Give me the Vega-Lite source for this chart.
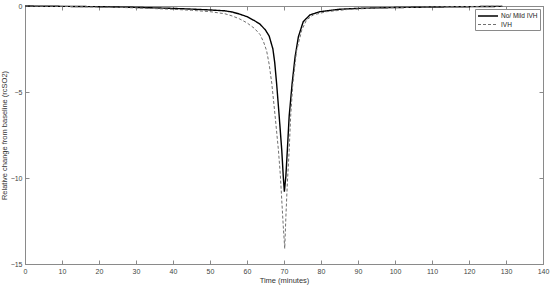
{
  "$schema": "https://vega.github.io/schema/vega-lite/v6.json",
  "width": 518,
  "height": 258,
  "autosize": {"type": "none"},
  "padding": {"left": 25, "top": 6, "right": 7, "bottom": 24},
  "config": {
    "font": "Liberation Sans",
    "view": {"stroke": "#8a8a8a", "strokeWidth": 1},
    "axis": {
      "grid": false,
      "domainColor": "#8a8a8a",
      "tickColor": "#8a8a8a",
      "labelColor": "#444444",
      "titleColor": "#333333",
      "labelFontSize": 7,
      "titleFontSize": 7.5,
      "titleFontWeight": "normal",
      "tickSize": -4,
      "labelPadding": 7
    }
  },
  "data": {
    "values": [
      {"t": 0, "v": 0, "series": "No/ Mild IVH"},
      {"t": 5, "v": -0.01, "series": "No/ Mild IVH"},
      {"t": 10, "v": -0.02, "series": "No/ Mild IVH"},
      {"t": 15, "v": -0.03, "series": "No/ Mild IVH"},
      {"t": 20, "v": -0.04, "series": "No/ Mild IVH"},
      {"t": 25, "v": -0.06, "series": "No/ Mild IVH"},
      {"t": 30, "v": -0.08, "series": "No/ Mild IVH"},
      {"t": 35, "v": -0.11, "series": "No/ Mild IVH"},
      {"t": 40, "v": -0.14, "series": "No/ Mild IVH"},
      {"t": 45, "v": -0.18, "series": "No/ Mild IVH"},
      {"t": 50, "v": -0.23, "series": "No/ Mild IVH"},
      {"t": 54, "v": -0.28, "series": "No/ Mild IVH"},
      {"t": 56, "v": -0.35, "series": "No/ Mild IVH"},
      {"t": 58, "v": -0.47, "series": "No/ Mild IVH"},
      {"t": 60, "v": -0.62, "series": "No/ Mild IVH"},
      {"t": 62, "v": -0.85, "series": "No/ Mild IVH"},
      {"t": 63.5, "v": -1.05, "series": "No/ Mild IVH"},
      {"t": 65, "v": -1.4, "series": "No/ Mild IVH"},
      {"t": 66, "v": -1.75, "series": "No/ Mild IVH"},
      {"t": 67, "v": -2.5, "series": "No/ Mild IVH"},
      {"t": 67.5, "v": -3.3, "series": "No/ Mild IVH"},
      {"t": 68, "v": -4.5, "series": "No/ Mild IVH"},
      {"t": 68.7, "v": -6.4, "series": "No/ Mild IVH"},
      {"t": 69.4, "v": -8.4, "series": "No/ Mild IVH"},
      {"t": 69.8, "v": -9.9, "series": "No/ Mild IVH"},
      {"t": 70.1, "v": -10.8, "series": "No/ Mild IVH"},
      {"t": 70.5, "v": -9.9, "series": "No/ Mild IVH"},
      {"t": 70.9, "v": -8.4, "series": "No/ Mild IVH"},
      {"t": 71.4, "v": -6.4, "series": "No/ Mild IVH"},
      {"t": 72.2, "v": -4.5, "series": "No/ Mild IVH"},
      {"t": 73, "v": -2.95, "series": "No/ Mild IVH"},
      {"t": 73.9, "v": -1.78, "series": "No/ Mild IVH"},
      {"t": 75.2, "v": -0.91, "series": "No/ Mild IVH"},
      {"t": 77, "v": -0.52, "series": "No/ Mild IVH"},
      {"t": 79.7, "v": -0.33, "series": "No/ Mild IVH"},
      {"t": 85, "v": -0.19, "series": "No/ Mild IVH"},
      {"t": 90, "v": -0.14, "series": "No/ Mild IVH"},
      {"t": 95, "v": -0.11, "series": "No/ Mild IVH"},
      {"t": 100, "v": -0.09, "series": "No/ Mild IVH"},
      {"t": 110, "v": -0.06, "series": "No/ Mild IVH"},
      {"t": 120, "v": -0.04, "series": "No/ Mild IVH"},
      {"t": 129, "v": -0.02, "series": "No/ Mild IVH"},
      {"t": 0, "v": 0, "series": "IVH"},
      {"t": 5, "v": -0.01, "series": "IVH"},
      {"t": 10, "v": -0.02, "series": "IVH"},
      {"t": 15, "v": -0.04, "series": "IVH"},
      {"t": 20, "v": -0.06, "series": "IVH"},
      {"t": 25, "v": -0.08, "series": "IVH"},
      {"t": 30, "v": -0.11, "series": "IVH"},
      {"t": 35, "v": -0.15, "series": "IVH"},
      {"t": 40, "v": -0.19, "series": "IVH"},
      {"t": 45, "v": -0.25, "series": "IVH"},
      {"t": 50, "v": -0.33, "series": "IVH"},
      {"t": 54, "v": -0.45, "series": "IVH"},
      {"t": 56, "v": -0.58, "series": "IVH"},
      {"t": 58, "v": -0.75, "series": "IVH"},
      {"t": 60, "v": -0.98, "series": "IVH"},
      {"t": 62, "v": -1.3, "series": "IVH"},
      {"t": 63.5, "v": -1.65, "series": "IVH"},
      {"t": 64.5, "v": -2.1, "series": "IVH"},
      {"t": 65.3, "v": -2.6, "series": "IVH"},
      {"t": 66, "v": -3.4, "series": "IVH"},
      {"t": 66.7, "v": -4.5, "series": "IVH"},
      {"t": 67.6, "v": -6.4, "series": "IVH"},
      {"t": 68.5, "v": -8.4, "series": "IVH"},
      {"t": 69, "v": -9.8, "series": "IVH"},
      {"t": 69.4, "v": -11.3, "series": "IVH"},
      {"t": 69.8, "v": -12.8, "series": "IVH"},
      {"t": 70.2, "v": -14.1, "series": "IVH"},
      {"t": 70.5, "v": -12.3, "series": "IVH"},
      {"t": 70.9, "v": -10.3, "series": "IVH"},
      {"t": 71.4, "v": -8.4, "series": "IVH"},
      {"t": 71.8, "v": -6.4, "series": "IVH"},
      {"t": 72.4, "v": -4.5, "series": "IVH"},
      {"t": 73.4, "v": -2.6, "series": "IVH"},
      {"t": 74.8, "v": -1.4, "series": "IVH"},
      {"t": 76.1, "v": -0.81, "series": "IVH"},
      {"t": 77.9, "v": -0.52, "series": "IVH"},
      {"t": 81.5, "v": -0.33, "series": "IVH"},
      {"t": 87.8, "v": -0.19, "series": "IVH"},
      {"t": 95, "v": -0.12, "series": "IVH"},
      {"t": 100, "v": -0.09, "series": "IVH"},
      {"t": 110, "v": -0.05, "series": "IVH"},
      {"t": 120, "v": -0.03, "series": "IVH"},
      {"t": 129, "v": -0.01, "series": "IVH"}
    ]
  },
  "layer": [
    {
      "mark": {"type": "line"},
      "encoding": {
        "x": {
          "field": "t", "type": "quantitative",
          "scale": {"domain": [0, 140], "nice": false, "zero": false},
          "axis": {"title": "Time (minutes)", "values": [0,10,20,30,40,50,60,70,80,90,100,110,120,130,140], "titlePadding": 2, "labelFlush": false}
        },
        "y": {
          "field": "v", "type": "quantitative",
          "scale": {"domain": [-15, 0], "nice": false},
          "axis": {"title": "Relative change from baseline (rcSO2)", "values": [0, -5, -10, -15], "titlePadding": 2, "labelFlush": false}
        },
        "color": {
          "field": "series", "type": "nominal",
          "scale": {"domain": ["No/ Mild IVH", "IVH"], "range": ["#000000", "#707070"]},
          "legend": {
            "title": null, "orient": "top-right", "offset": 3,
            "fillColor": "#ffffff", "strokeColor": "#8a8a8a", "padding": 2,
            "labelFontSize": 6.5, "labelColor": "#222222", "symbolType": "M-1,0H4",
            "symbolSize": 64, "symbolStrokeWidth": 1.2, "rowPadding": 0, "labelOffset": 14
          }
        },
        "strokeDash": {
          "field": "series", "type": "nominal",
          "scale": {"domain": ["No/ Mild IVH", "IVH"], "range": [[1, 0], [3, 2]]},
          "legend": {"title": null}
        },
        "strokeWidth": {
          "field": "series", "type": "nominal",
          "scale": {"domain": ["No/ Mild IVH", "IVH"], "range": [1.4, 1.0]},
          "legend": null
        }
      }
    },
    {
      "mark": {"type": "line", "opacity": 0},
      "encoding": {
        "x": {"field": "t", "type": "quantitative", "axis": {"orient": "top", "labels": false, "title": null, "values": [0,10,20,30,40,50,60,70,80,90,100,110,120,130,140]}},
        "y": {"field": "v", "type": "quantitative", "axis": {"orient": "right", "labels": false, "title": null, "values": [0, -5, -10, -15]}},
        "detail": {"field": "series"}
      }
    }
  ],
  "resolve": {"axis": {"x": "independent", "y": "independent"}}
}
